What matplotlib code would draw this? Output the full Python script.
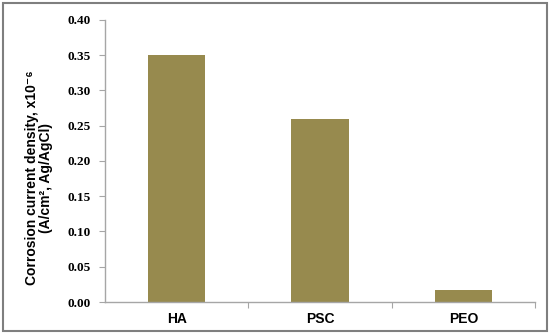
import matplotlib
matplotlib.use("Agg")
import matplotlib.pyplot as plt
from matplotlib.patches import Rectangle
from matplotlib.ticker import FixedLocator, MultipleLocator

categories = ["HA", "PSC", "PEO"]
values = [0.35, 0.26, 0.017]

BAR = "#978a4e"
AXIS = "#a6a6a6"

fig = plt.figure(figsize=(5.5, 3.35), dpi=100)
ax = fig.add_axes([0.191, 0.0985, 0.782, 0.842])

xs = list(range(len(categories)))
ax.bar(xs, values, width=0.4, color=BAR, zorder=2)

ax.set_xlim(-0.5, len(categories) - 0.5)
ax.set_ylim(0, 0.40)
ax.yaxis.set_major_locator(MultipleLocator(0.05))
ax.set_yticklabels([f"{v:.2f}" for v in ax.get_yticks()],
                   family="Liberation Serif", fontweight="bold", fontsize=9.5)

# category labels at centres, tick marks at the boundaries
ax.xaxis.set_major_locator(FixedLocator([x + 0.5 for x in xs]))
ax.xaxis.set_minor_locator(FixedLocator(xs))
ax.set_xticklabels([])
ax.set_xticklabels(categories, minor=True, family="Liberation Sans",
                   fontweight="bold", fontsize=10)
ax.tick_params(axis="x", which="minor", length=0, pad=7)
ax.tick_params(axis="x", which="major", length=4, color=AXIS)
ax.tick_params(axis="y", length=4, color=AXIS, pad=6)

for s in ("top", "right"):
    ax.spines[s].set_visible(False)
for s in ("left", "bottom"):
    ax.spines[s].set_color(AXIS)
    ax.spines[s].set_linewidth(1.0)

ax.set_ylabel("Corrosion current density, x10\u207b\u2076\n(A/cm\u00b2, Ag/AgCl)",
              family=["Liberation Sans", "DejaVu Sans"], fontweight="bold",
              fontsize=10, linespacing=1.0)
ax.yaxis.set_label_coords(-0.122, 0.44)

fig.patches.append(Rectangle((0.006, 0.012), 0.988, 0.978, transform=fig.transFigure,
                             fill=False, edgecolor="#7f7f7f", linewidth=1.5))

fig.savefig("out.png", dpi=100)
